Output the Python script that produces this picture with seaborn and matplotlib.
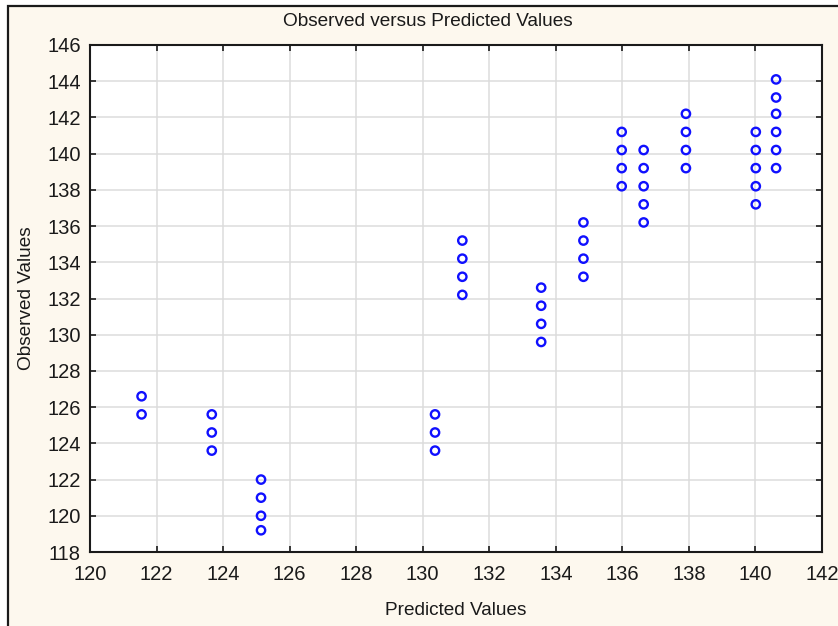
import matplotlib
matplotlib.use("Agg")
import matplotlib.pyplot as plt
import matplotlib.patches as mpatches
import pandas as pd
import seaborn as sns

# Predicted value of each group and the observed values recorded at it
predicted_levels = [121.55, 123.66, 125.14, 130.37, 131.19, 133.56,
                    134.83, 135.98, 136.64, 137.91, 140.01, 140.62]
observed_groups = [
    [126.6, 125.6],
    [125.6, 124.6, 123.6],
    [122.0, 121.0, 120.0, 119.2],
    [125.6, 124.6, 123.6],
    [135.2, 134.2, 133.2, 132.2],
    [132.6, 131.6, 130.6, 129.6],
    [136.2, 135.2, 134.2, 133.2],
    [141.2, 140.2, 139.2, 138.2],
    [140.2, 139.2, 138.2, 137.2, 136.2],
    [142.2, 141.2, 140.2, 139.2],
    [141.2, 140.2, 139.2, 138.2, 137.2],
    [144.1, 143.1, 142.2, 141.2, 140.2, 139.2],
]
x_ticks = [120, 122, 124, 126, 128, 130, 132, 134, 136, 138, 140, 142]
y_ticks = [118, 120, 122, 124, 126, 128, 130, 132, 134, 136, 138, 140, 142, 144, 146]

rows = [(p, o) for p, obs in zip(predicted_levels, observed_groups) for o in obs]
df = pd.DataFrame(rows, columns=["Predicted Values", "Observed Values"])

sns.set_theme(style="white")
plt.rcParams["font.family"] = ["Liberation Sans", "DejaVu Sans"]

W, H = 838, 626
fig = plt.figure(figsize=(W / 100, H / 100), dpi=100, facecolor="white")

# Cream panel with a dark frame behind the chart
panel = mpatches.Rectangle((7.5 / W, -0.1), 1.2, 1 - 5.5 / H + 0.1,
                           transform=fig.transFigure, facecolor="#FDF8EE",
                           edgecolor="#1a1a1a", linewidth=1.6, zorder=-5)
fig.patches.append(panel)

ax = fig.add_axes([90 / W, 1 - 552 / H, (822 - 90) / W, (552 - 45) / H])
ax.set_zorder(1)
ax.set_facecolor("white")

sns.scatterplot(data=df, x="Predicted Values", y="Observed Values", ax=ax,
                marker="o", s=36, facecolors="none", edgecolor="#1010FF",
                linewidth=1.7, zorder=3)

ax.set_xlim(120, 142)
ax.set_ylim(118, 146)
ax.set_xticks(x_ticks)
ax.set_yticks(y_ticks)
ax.grid(True, color="#DCDCDC", linewidth=1.1, zorder=0)
ax.set_axisbelow(True)

for side in ax.spines.values():
    side.set_color("#1a1a1a")
    side.set_linewidth(1.5)

ax.tick_params(axis="both", which="both", direction="in", length=4, width=1.2,
               color="#1a1a1a", labelsize=14.5, labelcolor="#1a1a1a",
               top=True, right=True, left=True, bottom=True,
               labeltop=False, labelright=False)
ax.tick_params(axis="x", pad=9)
ax.tick_params(axis="y", pad=6.5)

ax.set_xlabel("Predicted Values", fontsize=13.7, color="#1a1a1a", labelpad=13)
ax.set_ylabel("Observed Values", fontsize=13.7, color="#1a1a1a", labelpad=9)

fig.text(428 / W, 1 - 21 / H, "Observed versus Predicted Values",
         ha="center", va="center", fontsize=13.7, color="#1a1a1a")

fig.savefig("out.png", dpi=100, facecolor=fig.get_facecolor())
